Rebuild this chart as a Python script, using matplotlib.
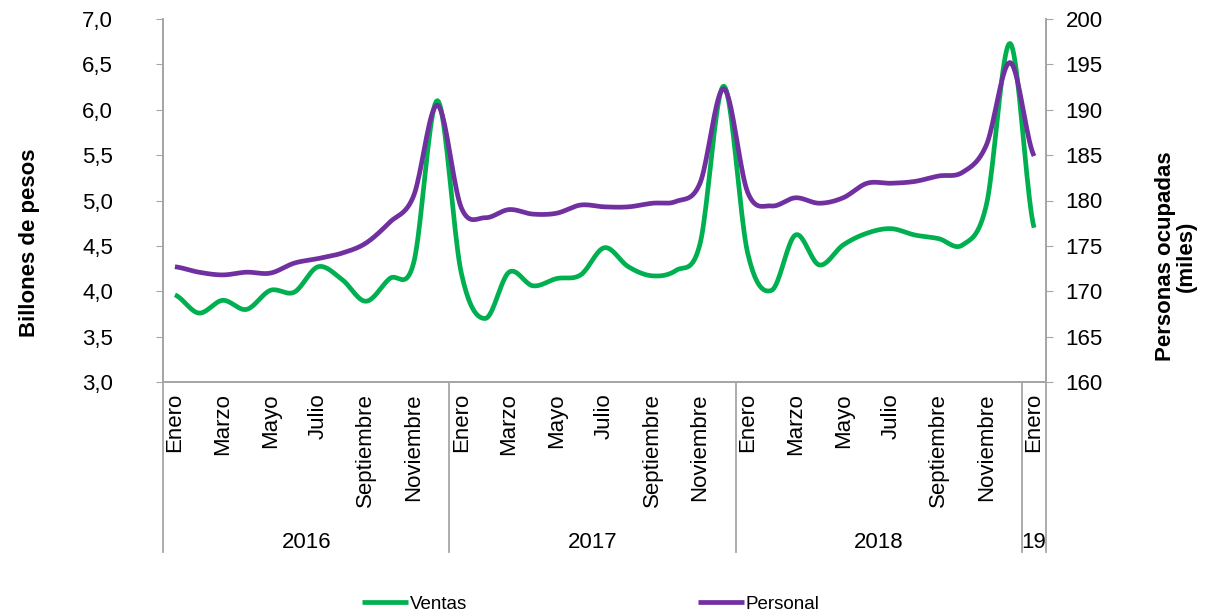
import matplotlib
matplotlib.use("Agg")
import matplotlib.pyplot as plt
import matplotlib.transforms as mtransforms
import numpy as np

plt.rcParams['font.family'] = ['Liberation Sans', 'DejaVu Sans']

meses = ["Enero", "", "Marzo", "", "Mayo", "", "Julio", "", "Septiembre", "", "Noviembre", ""]
etiquetas = meses * 3 + ["Enero"]
anios = ["2016", "2017", "2018", "19"]

ventas = [3.96, 3.76, 3.90, 3.80, 4.01, 3.99, 4.27, 4.13, 3.89, 4.14, 4.31, 6.10,
          4.20, 3.70, 4.21, 4.06, 4.14, 4.18, 4.48, 4.27, 4.17, 4.23, 4.52, 6.26,
          4.42, 4.01, 4.62, 4.29, 4.51, 4.64, 4.69, 4.62, 4.58, 4.51, 4.95, 6.73,
          4.70]
personal = [172.7, 172.1, 171.8, 172.1, 172.0, 173.1, 173.6, 174.2, 175.3, 177.6, 180.5, 190.5,
            179.2, 178.1, 179.0, 178.5, 178.6, 179.5, 179.3, 179.3, 179.7, 179.9, 181.9, 192.3,
            180.9, 179.4, 180.3, 179.7, 180.3, 181.9, 181.9, 182.1, 182.7, 183.1, 186.1, 195.2,
            184.9]


def suavizar(y, n=20):
    # catmull-rom, parecido al "linea suavizada" de excel
    y = np.asarray(y, dtype=float)
    xs, ys = [], []
    for i in range(len(y) - 1):
        p0 = y[i - 1] if i > 0 else y[i]
        p1, p2 = y[i], y[i + 1]
        p3 = y[i + 2] if i + 2 < len(y) else y[i + 1]
        t = np.linspace(0, 1, n, endpoint=False)
        yy = 0.5 * ((2 * p1) + (-p0 + p2) * t + (2 * p0 - 5 * p1 + 4 * p2 - p3) * t ** 2
                    + (-p0 + 3 * p1 - 3 * p2 + p3) * t ** 3)
        xs.append(i + t)
        ys.append(yy)
    xs.append([len(y) - 1])
    ys.append([y[-1]])
    return np.concatenate(xs), np.concatenate(ys)


gris = "#a6a6a6"
verde = "#00b050"
morado = "#7030a0"
fs = 16

fig = plt.figure(figsize=(12.08, 6.16), dpi=100)
ax = fig.add_axes([163 / 1208, 1 - 382 / 616, (1046 - 163) / 1208, (382 - 19) / 616])
ax2 = ax.twinx()

x = np.arange(len(ventas))
xv, yv = suavizar(ventas)
xp, yp = suavizar(personal)
lv, = ax.plot(xv, yv, color=verde, lw=3.4, solid_capstyle='butt', label="Ventas")
lp, = ax2.plot(xp, yp, color=morado, lw=3.4, solid_capstyle='butt', label="Personal")

ax.set_xlim(-0.5, len(ventas) - 0.5)
ax.set_ylim(3.0, 7.0)
ax2.set_ylim(160, 200)
ax.set_yticks(np.arange(3.0, 7.01, 0.5))
ax.set_yticklabels([f"{v:.1f}".replace(".", ",") for v in np.arange(3.0, 7.01, 0.5)])
ax2.set_yticks(np.arange(160, 201, 5))

ax.set_xticks(x)
ax.set_xticklabels(etiquetas, rotation=90, fontsize=fs)
ax.tick_params(axis='x', length=0, pad=8)
ax.tick_params(axis='y', labelsize=fs, length=5, color=gris, pad=31, direction='out')
ax2.tick_params(axis='y', labelsize=fs, length=5, color=gris, pad=9, direction='out')

for a in (ax, ax2):
    a.spines['top'].set_visible(False)
    for s in ('left', 'right', 'bottom'):
        a.spines[s].set_color(gris)
        a.spines[s].set_linewidth(1.3)

# separadores de anios y etiquetas de anio
trans = mtransforms.blended_transform_factory(ax.transData, ax.transAxes)
fondo = (382 - 552) / 363
for xs in [-0.5, 11.5, 23.5, 35.5, 36.5]:
    ax.plot([xs, xs], [0, fondo], color=gris, lw=1.3, transform=trans, clip_on=False)
centros = [5.5, 17.5, 29.5, 36.0]
for c, a in zip(centros, anios):
    ax.text(c, (382 - 542) / 363, a, transform=trans, ha='center', va='center', fontsize=fs)

fig.text(30 / 1208, 1 - 243 / 616, "Billones de pesos", rotation=90, ha='center', va='center',
         fontsize=fs, fontweight='bold')
fig.text(1176 / 1208, 1 - 256 / 616, "Personas ocupadas\n(miles)", rotation=90, ha='center',
         va='center', fontsize=fs, fontweight='bold', linespacing=1.0)

fig.legend([lv, lp], ["Ventas", "Personal"], loc='center', bbox_to_anchor=(591 / 1208, 1 - 604 / 616),
           ncol=2, frameon=False, fontsize=13.5, handlelength=2.45, handletextpad=0.1, columnspacing=12.3)

fig.savefig("out.png", dpi=100)
